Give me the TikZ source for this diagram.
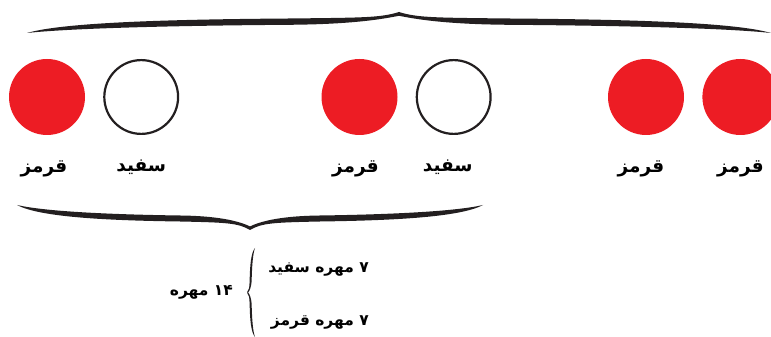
\documentclass[tikz,border=0pt]{standalone}
\usepackage{fontspec}
\usetikzlibrary{positioning}
\TeXXeTstate=1
\newfontfamily\farsifont[Script=Arabic]{DejaVu Sans}
\definecolor{bead}{HTML}{ED1C24}
\definecolor{ink}{HTML}{231F20}
\tikzset{red bead/.style={circle,fill=bead,minimum size=76pt,inner sep=0pt},white bead/.style={circle,draw=ink,line width=2.2pt,minimum size=73.8pt,inner sep=0pt},lbl/.style={font=\farsifont\bfseries\fontsize{18.5}{22}\selectfont,inner sep=0pt},cnt/.style={font=\farsifont\bfseries\fontsize{15.5}{19}\selectfont,inner sep=0pt}}
% brace with tapered ends: tip, rotation, half width, height, thickness
\newcommand{\calbrace}[5]{%
\begin{scope}[shift={#1},rotate=#2,x=#3pt,y=#4pt]
\foreach \s in {1,-1}
\fill[ink,xscale=\s] (0,0) .. controls (-0.05,-0.28) and (-0.1,{-0.42+#5/2}) .. (-0.3,{-0.46+#5/2})
 .. controls (-0.6,{-0.5+#5/2}) and (-0.9,{-0.58+#5/3}) .. (-1,-1)
 .. controls (-0.88,{-0.62-#5/2}) and (-0.6,{-0.5-#5/2}) .. (-0.3,{-0.46-#5/2})
 .. controls (-0.12,{-0.44-#5/2}) and (-0.04,-0.32) .. (0,{-0.6*#5}) -- cycle;
\end{scope}}

\begin{document}
\begin{tikzpicture}[x=1pt,y=1pt]
\useasboundingbox (0,0) rectangle (771,337);
% beads
\node[red bead] (r1) at (47,240) {};
\node[white bead,right=18pt of r1] (w1) {};
\node[red bead] (r2) at (359.5,240) {};
\node[white bead,right=18pt of r2] (w2) {};
\node[red bead] (r3) at (646,240) {};
\node[red bead,right=18pt of r3] (r4) {};
% names under the beads
\node[lbl,below=25pt of r1,xshift=-3pt] (l1) {\beginR قرمز\endR};
\node[lbl,below=25pt of w1] (l2) {\beginR سفید\endR};
\node[lbl,below=25pt of r2,xshift=-4pt] (l3) {\beginR قرمز\endR};
\node[lbl,below=25pt of w2,xshift=-6pt] (l4) {\beginR سفید\endR};
\node[lbl,below=25pt of r3,xshift=-5pt] (l5) {\beginR قرمز\endR};
\node[lbl,below=25pt of r4] (l6) {\beginR قرمز\endR};
% braces
\coordinate (topbr) at (399,325);
\coordinate (botbr) at (250,107);
\coordinate (sumbr) at (247,44.5);
\calbrace{(topbr)}{0}{372}{21}{0.3}
\calbrace{(botbr)}{180}{233}{25}{0.24}
\calbrace{(sumbr)}{90}{44.5}{8}{0.25}
% count
\node[cnt,left=14pt of sumbr] (sum) {\beginR\beginL ۱۴\endL{} مهره\endR};
\node[cnt,anchor=east] (nw) at (369,68) {\beginR ۷ مهره سفید\endR};
\node[cnt,anchor=east] (nr) at (369,15) {\beginR ۷ مهره قرمز\endR};
\end{tikzpicture}
\end{document}
